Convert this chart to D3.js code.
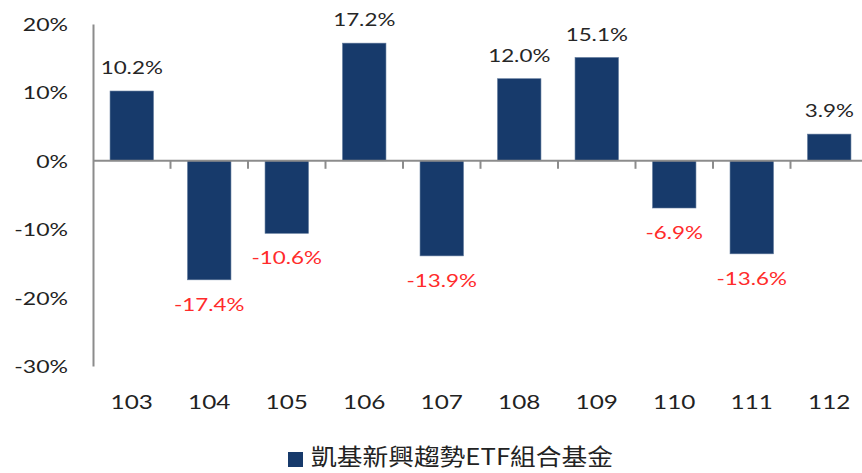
<!DOCTYPE html>
<html>
<head>
<meta charset="utf-8">
<script src="https://cdn.jsdelivr.net/npm/d3@7"></script>
<style>
  body { margin: 0; background: #fff; }
  text { font-family: Lato, "Noto Sans", sans-serif; }
</style>
</head>
<body>
<div id="chart"></div>
<script>
// data
const years = ["103", "104", "105", "106", "107", "108", "109", "110", "111", "112"];
const returns = [10.2, -17.4, -10.6, 17.2, -13.9, 12.0, 15.1, -6.9, -13.6, 3.9];
const yTicks = [20, 10, 0, -10, -20, -30];
const seriesName = "凱基新興趨勢ETF組合基金";

const width = 862;
const height = 473;
const sx = 1.28; // the reference text is stretched horizontally

const svg = d3.select("#chart")
    .append("svg")
    .attr("width", width)
    .attr("height", height);

const x = d3.scaleBand()
    .domain(years)
    .range([93, 868])
    .paddingInner(0.44)
    .paddingOuter(0.22);

const y = d3.scaleLinear()
    .domain([-30, 20])
    .range([366, 24]);

const barColor = "#173a6b";
const axisColor = "#8c8c8c";

// bars
svg.selectAll(".bar")
    .data(returns)
    .enter().append("rect")
    .attr("class", "bar")
    .attr("x", (d, i) => x(years[i]))
    .attr("y", d => y(Math.max(0, d)))
    .attr("width", x.bandwidth())
    .attr("height", d => Math.abs(y(d) - y(0)))
    .attr("fill", barColor)
    .attr("stroke", "#5b7598")
    .attr("stroke-width", 0.6);

// y axis line + labels
const yAxis = svg.append("g")
    .attr("transform", "translate(93,0)")
    .call(d3.axisLeft(y).tickValues(yTicks).tickSize(0).tickFormat(d => d + "%"));
yAxis.select(".domain")
    .attr("stroke", axisColor)
    .attr("stroke-width", 2);
yAxis.selectAll("text")
    .attr("x", 0)
    .attr("dy", "0.36em")
    .attr("transform", `translate(-25,0) scale(${sx},1)`)
    .style("font-size", "18px")
    .style("fill", "#222");

// zero line with category separators
svg.append("line")
    .attr("x1", 93)
    .attr("x2", width)
    .attr("y1", y(0))
    .attr("y2", y(0))
    .attr("stroke", axisColor)
    .attr("stroke-width", 2);

const gap = x.step() * x.paddingInner() / 2;
svg.selectAll(".sep")
    .data(years.slice(1))
    .enter().append("line")
    .attr("class", "sep")
    .attr("x1", d => x(d) - gap)
    .attr("x2", d => x(d) - gap)
    .attr("y1", y(0))
    .attr("y2", y(0) + 8)
    .attr("stroke", axisColor)
    .attr("stroke-width", 2);

// category labels
svg.selectAll(".cat")
    .data(years)
    .enter().append("text")
    .attr("class", "cat")
    .attr("text-anchor", "middle")
    .attr("transform", d => `translate(${x(d) + x.bandwidth() / 2},409) scale(${sx},1)`)
    .style("font-size", "19px")
    .style("fill", "#222")
    .text(d => d);

// value labels
svg.selectAll(".val")
    .data(returns)
    .enter().append("text")
    .attr("class", "val")
    .attr("text-anchor", "middle")
    .attr("transform", (d, i) => {
        const cx = x(years[i]) + x.bandwidth() / 2;
        const ty = d >= 0 ? y(d) - 17 : y(d) + 31;
        return `translate(${cx},${ty}) scale(${sx},1)`;
    })
    .style("font-size", "17.5px")
    .style("fill", d => d >= 0 ? "#262626" : "#ff2b2b")
    .text(d => d.toFixed(1) + "%");

// legend
const legend = svg.append("g");
legend.append("rect")
    .attr("x", 288)
    .attr("y", 452)
    .attr("width", 15)
    .attr("height", 15)
    .attr("fill", barColor);
legend.append("text")
    .attr("x", 311)
    .attr("y", 465)
    .attr("textLength", 302)
    .attr("lengthAdjust", "spacingAndGlyphs")
    .style("font-family", "'Noto Sans CJK TC', sans-serif")
    .style("font-size", "23px")
    .style("fill", "#222")
    .text(seriesName);
</script>
</body>
</html>
